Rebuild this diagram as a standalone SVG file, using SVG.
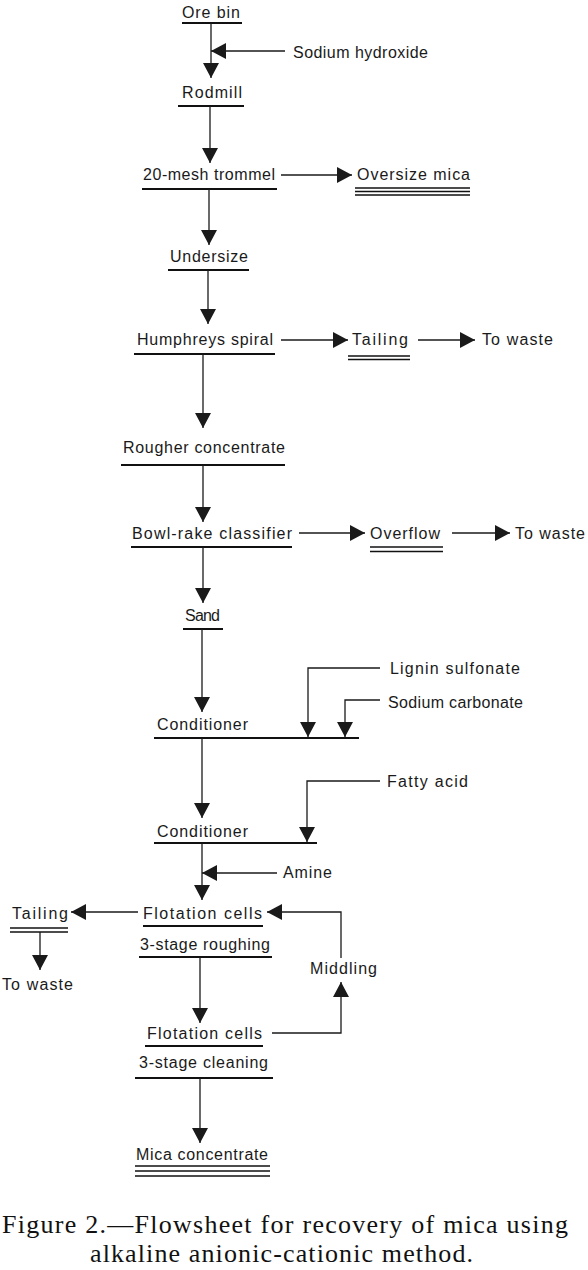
<svg xmlns="http://www.w3.org/2000/svg" width="588" height="1270" viewBox="0 0 588 1270">
<style>
.t{font-family:"Liberation Sans",Arial,sans-serif;font-size:16px;fill:#1a1a1a;}
.c{font-family:"Liberation Serif","Times New Roman",serif;font-size:26px;fill:#111;}
.u{stroke:#111;stroke-width:2;fill:none;}
.u1{stroke:#111;stroke-width:1.4;fill:none;}
.k{stroke:#1a1a1a;stroke-width:1.3;fill:none;marker-end:url(#ah);}
</style>
<defs>
<marker id="ah" markerUnits="userSpaceOnUse" markerWidth="16" markerHeight="16" viewBox="0 0 16 16" refX="15" refY="8" orient="auto">
<path d="M0,0 L15,8 L0,16 z" fill="#1a1a1a"/>
</marker>
</defs>
<rect width="588" height="1270" fill="#fff"/>

<g id="ore-bin"><text class="t" x="182" y="18" textLength="58" lengthAdjust="spacing">Ore bin</text><line class="u" x1="182" y1="23" x2="242" y2="23"/></g>
<g id="sodium-hydroxide"><text class="t" x="293" y="58" textLength="135" lengthAdjust="spacing">Sodium hydroxide</text></g>
<g id="rodmill"><text class="t" x="182" y="98" textLength="60" lengthAdjust="spacing">Rodmill</text><line class="u" x1="178" y1="106" x2="244" y2="106"/></g>
<g id="trommel"><text class="t" x="143" y="180" textLength="132" lengthAdjust="spacing">20-mesh trommel</text><line class="u" x1="142" y1="189" x2="277" y2="189"/></g>
<g id="oversize-mica"><text class="t" x="357" y="180" textLength="113" lengthAdjust="spacing">Oversize mica</text><line class="u1" x1="355" y1="188" x2="470" y2="188"/><line class="u1" x1="355" y1="191.5" x2="470" y2="191.5"/><line class="u1" x1="355" y1="195" x2="470" y2="195"/></g>
<g id="undersize"><text class="t" x="170" y="262" textLength="78" lengthAdjust="spacing">Undersize</text><line class="u" x1="168" y1="270" x2="249" y2="270"/></g>
<g id="humphreys"><text class="t" x="137" y="345" textLength="136" lengthAdjust="spacing">Humphreys spiral</text><line class="u" x1="134" y1="354" x2="275" y2="354"/></g>
<g id="tailing-1"><text class="t" x="352" y="345" textLength="56" lengthAdjust="spacing">Tailing</text><line class="u1" x1="348" y1="356" x2="410" y2="356"/><line class="u1" x1="348" y1="359.5" x2="410" y2="359.5"/></g>
<g id="waste-1"><text class="t" x="482" y="345" textLength="71" lengthAdjust="spacing">To waste</text></g>
<g id="rougher"><text class="t" x="123" y="453" textLength="162" lengthAdjust="spacing">Rougher concentrate</text><line class="u" x1="121" y1="465" x2="285" y2="465"/></g>
<g id="bowl-rake"><text class="t" x="132" y="539" textLength="160" lengthAdjust="spacing">Bowl-rake classifier</text><line class="u" x1="131" y1="547" x2="292" y2="547"/></g>
<g id="overflow"><text class="t" x="370" y="539" textLength="70" lengthAdjust="spacing">Overflow</text><line class="u1" x1="370" y1="547" x2="443" y2="547"/><line class="u1" x1="370" y1="551.5" x2="443" y2="551.5"/></g>
<g id="waste-2"><text class="t" x="515" y="539" textLength="70" lengthAdjust="spacing">To waste</text></g>
<g id="sand"><text class="t" x="185" y="621" textLength="35" lengthAdjust="spacing">Sand</text><line class="u" x1="183" y1="629" x2="223" y2="629"/></g>
<g id="lignin"><text class="t" x="390" y="674" textLength="130" lengthAdjust="spacing">Lignin sulfonate</text></g>
<g id="sodium-carbonate"><text class="t" x="388" y="708" textLength="135" lengthAdjust="spacing">Sodium carbonate</text></g>
<g id="conditioner-1"><text class="t" x="157" y="730" textLength="91" lengthAdjust="spacing">Conditioner</text><line class="u" x1="154" y1="738" x2="359" y2="738"/></g>
<g id="fatty-acid"><text class="t" x="387" y="787" textLength="81" lengthAdjust="spacing">Fatty acid</text></g>
<g id="conditioner-2"><text class="t" x="157" y="837" textLength="91" lengthAdjust="spacing">Conditioner</text><line class="u" x1="154" y1="843" x2="317" y2="843"/></g>
<g id="amine"><text class="t" x="283" y="878" textLength="49" lengthAdjust="spacing">Amine</text></g>
<g id="flotation-roughing"><text class="t" x="143" y="919" textLength="119" lengthAdjust="spacing">Flotation cells</text><line class="u" x1="143" y1="926" x2="263" y2="926"/><text class="t" x="140" y="950" textLength="130" lengthAdjust="spacing">3-stage roughing</text><line class="u" x1="139" y1="957" x2="272" y2="957"/></g>
<g id="tailing-2"><text class="t" x="12" y="919" textLength="56" lengthAdjust="spacing">Tailing</text><line class="u1" x1="10" y1="928" x2="68" y2="928"/><line class="u1" x1="10" y1="932" x2="68" y2="932"/></g>
<g id="waste-3"><text class="t" x="2" y="990" textLength="71" lengthAdjust="spacing">To waste</text></g>
<g id="middling"><text class="t" x="310" y="974" textLength="67" lengthAdjust="spacing">Middling</text></g>
<g id="flotation-cleaning"><text class="t" x="147" y="1039" textLength="115" lengthAdjust="spacing">Flotation cells</text><line class="u" x1="145" y1="1046" x2="263" y2="1046"/><text class="t" x="139" y="1068" textLength="129" lengthAdjust="spacing">3-stage cleaning</text><line class="u" x1="135" y1="1078" x2="273" y2="1078"/></g>
<g id="mica-concentrate"><text class="t" x="136" y="1160" textLength="132" lengthAdjust="spacing">Mica concentrate</text><line class="u1" x1="135" y1="1166" x2="270" y2="1166"/><line class="u1" x1="135" y1="1171" x2="270" y2="1171"/><line class="u1" x1="135" y1="1176" x2="270" y2="1176"/></g>

<g id="connectors">
<path class="k" d="M211,23 V78"/>
<path class="k" d="M285,51 H211"/>
<path class="k" d="M210,106 V163"/>
<path class="k" d="M281,175 H352"/>
<path class="k" d="M209,189 V245"/>
<path class="k" d="M208,270 V324"/>
<path class="k" d="M281,340 H348"/>
<path class="k" d="M418,340 H475"/>
<path class="k" d="M203,354 V428"/>
<path class="k" d="M203,465 V522"/>
<path class="k" d="M299,533 H365"/>
<path class="k" d="M452,533 H510"/>
<path class="k" d="M203,547 V603"/>
<path class="k" d="M202,629 V712"/>
<path class="k" d="M380,668 H308 V737"/>
<path class="k" d="M380,700 H345 V737"/>
<path class="k" d="M202,738 V818"/>
<path class="k" d="M380,781 H307 V842"/>
<path class="k" d="M202,843 V900"/>
<path class="k" d="M277,873 H202"/>
<path class="k" d="M138,912 H71"/>
<path class="k" d="M40,932 V970"/>
<path class="k" d="M200,957 V1023"/>
<path class="k" d="M272,1033 H341 V982"/>
<path class="k" d="M341,958 V912 H267"/>
<path class="k" d="M200,1078 V1143"/>
</g>

<g id="caption">
<text class="c" x="2" y="1233" textLength="566" lengthAdjust="spacing">Figure 2.—Flowsheet for recovery of mica using</text>
<text class="c" x="90" y="1262" textLength="383" lengthAdjust="spacing">alkaline anionic-cationic method.</text>
</g>
</svg>
